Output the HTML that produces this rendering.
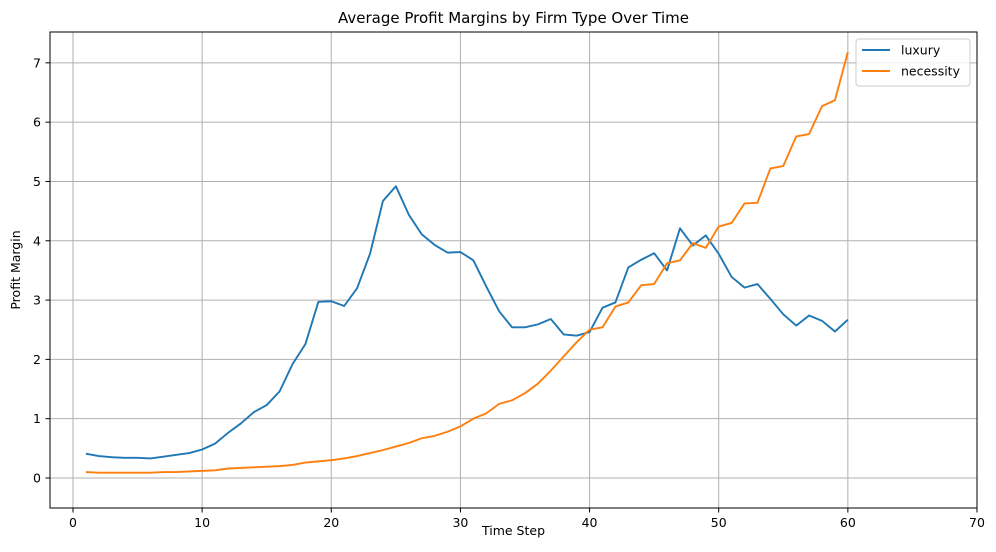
<!DOCTYPE html>
<html><head><meta charset="utf-8"><style>
body{margin:0;background:#fff;font-family:"Liberation Sans","DejaVu Sans",sans-serif;}
svg text{font-family:"DejaVu Sans","Liberation Sans",sans-serif;}
</style></head><body>
<svg id="chart" width="996" height="547" xmlns="http://www.w3.org/2000/svg"></svg>
<script>
const timeSteps = Array.from({length:60},(_,i)=>i+1);
const luxury = [0.41,0.37,0.35,0.34,0.34,0.33,0.36,0.39,0.42,0.48,0.58,0.76,0.92,1.11,1.23,1.46,1.92,2.26,2.97,2.98,2.90,3.20,3.78,4.67,4.92,4.44,4.11,3.93,3.80,3.81,3.67,3.23,2.81,2.54,2.54,2.59,2.68,2.42,2.40,2.46,2.87,2.96,3.55,3.68,3.79,3.50,4.21,3.92,4.09,3.78,3.39,3.21,3.27,3.02,2.76,2.57,2.74,2.65,2.47,2.67];
const necessity = [0.10,0.09,0.09,0.09,0.09,0.09,0.10,0.10,0.11,0.12,0.13,0.16,0.17,0.18,0.19,0.20,0.22,0.26,0.28,0.30,0.33,0.37,0.42,0.47,0.53,0.59,0.67,0.71,0.78,0.87,1.00,1.09,1.25,1.31,1.43,1.59,1.81,2.05,2.29,2.50,2.54,2.89,2.96,3.25,3.27,3.62,3.67,3.96,3.88,4.24,4.30,4.63,4.64,5.22,5.26,5.76,5.80,6.27,6.37,7.18];
const xTicks = [0,10,20,30,40,50,60,70];
const yTicks = [0,1,2,3,4,5,6,7];

const svg = document.getElementById('chart');
const NS = 'http://www.w3.org/2000/svg';
const L=50,R=977,T=32,B=508;
const xMin=-1.78,xMax=70,yMin=-0.506,yMax=7.52;
const sx=v=>L+(v-xMin)/(xMax-xMin)*(R-L);
const sy=v=>B-(v-yMin)/(yMax-yMin)*(B-T);
function mk(tag,attrs,parent){const e=document.createElementNS(NS,tag);for(const k in attrs)e.setAttribute(k,attrs[k]);(parent||svg).appendChild(e);return e;}

const grid=mk('g',{});


xTicks.forEach(t=>{
  const x=sx(t);
  const l=mk('line',{x1:x,x2:x,y1:T,y2:B,stroke:'#b0b0b0','stroke-width':1},grid);
  
  
  mk('line',{x1:x,x2:x,y1:B,y2:B+4.5,stroke:'#000','stroke-width':1});
  const tx=mk('text',{x:x,y:B+19,'text-anchor':'middle','font-size':12.5,fill:'#000'});
  tx.textContent=t;
  
  
});
yTicks.forEach(t=>{
  const y=sy(t);
  const l=mk('line',{x1:L,x2:R,y1:y,y2:y,stroke:'#b0b0b0','stroke-width':1},grid);
  
  
  mk('line',{x1:L-4.5,x2:L,y1:y,y2:y,stroke:'#000','stroke-width':1});
  const tx=mk('text',{x:L-9,y:y+4.5,'text-anchor':'end','font-size':12.5,fill:'#000'});
  tx.textContent=t;
  
  
});

function series(vals,color,name){
  const d=vals.map((v,i)=>(i?'L':'M')+sx(timeSteps[i]).toFixed(2)+','+sy(v).toFixed(2)).join(' ');
  const p=mk('path',{d:d,fill:'none',stroke:color,'stroke-width':1.9,'stroke-linejoin':'round'});
  
  
}
series(luxury,'#1f77b4','luxury-line');
series(necessity,'#ff7f0e','necessity-line');

const frame=mk('rect',{x:L,y:T,width:R-L,height:B-T,fill:'none',stroke:'#000','stroke-width':1});



const title=mk('text',{x:(L+R)/2,y:T-9,'text-anchor':'middle','font-size':15,fill:'#000'});
title.textContent='Average Profit Margins by Firm Type Over Time';


const xl=mk('text',{x:(L+R)/2,y:535,'text-anchor':'middle','font-size':12.5,fill:'#000'});
xl.textContent='Time Step';


const yl=mk('text',{x:20,y:(T+B)/2,'text-anchor':'middle','font-size':12.5,fill:'#000',transform:`rotate(-90 20 ${(T+B)/2})`});
yl.textContent='Profit Margin';



const lg=mk('g',{});


mk('rect',{x:856,y:39,width:114,height:47,rx:3,fill:'#fff',stroke:'#ccc','stroke-width':1,'fill-opacity':0.8},lg);
[['luxury','#1f77b4',50],['necessity','#ff7f0e',71]].forEach(([n,c,y])=>{
  const g=mk('g',{},lg);
  
  
  mk('line',{x1:862,x2:890,y1:y,y2:y,stroke:c,'stroke-width':1.9},g);
  const t=mk('text',{x:901,y:y+4.5,'font-size':12.5,fill:'#000'},g);
  t.textContent=n;
});
</script>
</body></html>
